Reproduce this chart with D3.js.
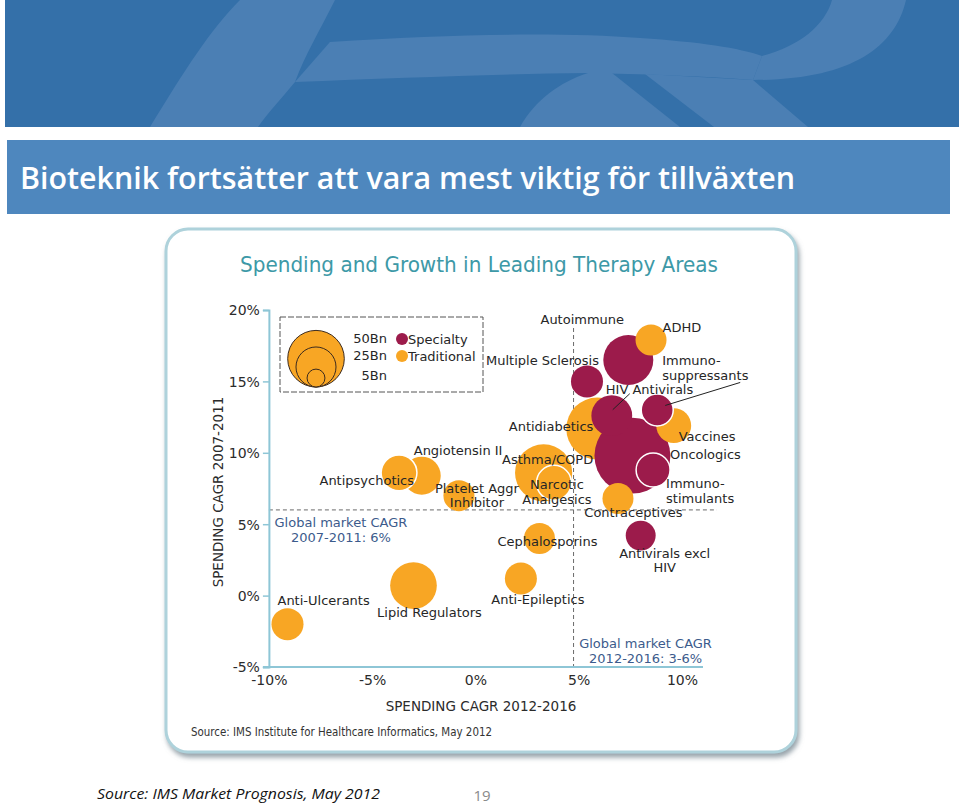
<!DOCTYPE html>
<html><head><meta charset="utf-8">
<script src="https://cdn.jsdelivr.net/npm/d3@7/dist/d3.min.js"></script>
<style>body{margin:0;background:#fff}svg{display:block}</style>
</head><body><svg id="c" width="960" height="807"></svg>
<script>
// ---------------- DATA ----------------
const names = ["Anti-Ulcerants","Lipid Regulators","Anti-Epileptics","Cephalosporins","Angiotensin II","Antipsychotics","Platelet Aggr Inhibitor","Asthma/COPD","Narcotic Analgesics","Antidiabetics","Multiple Sclerosis","Autoimmune","ADHD","Oncologics","HIV Antivirals","Vaccines","Immunosuppressants","Immunostimulants","Contraceptives","Antivirals excl HIV"];
const groups = ["Traditional","Traditional","Traditional","Traditional","Traditional","Traditional","Traditional","Traditional","Traditional","Traditional","Specialty","Specialty","Traditional","Specialty","Specialty","Traditional","Specialty","Specialty","Traditional","Specialty"];
const cagr2012_2016 = [-9.1,-3.0,2.2,3.1,-2.6,-3.7,-0.8,3.3,3.8,5.9,5.4,7.4,8.5,7.6,6.6,9.6,8.8,8.6,6.9,8.0];
const cagr2007_2011 = [-2.0,0.7,1.2,4.0,8.4,8.6,7.0,8.6,7.9,11.7,15.0,16.5,17.9,9.8,12.6,11.9,13.0,8.8,6.8,4.2];
const spendingBn = [16,34,16,15,22.5,20,15,51,19,60,16,39,15,90,26,19,16,18,15,14];
const xTicks = [-10,-5,0,5,10];
const yTicks = [-5,0,5,10,15,20];
const legendSizes = [50,25,5];
const legendGroups = ["Specialty","Traditional"];
const globalCagr2007 = 6;      // horizontal reference
const globalCagr2012 = 4.75;   // vertical reference (3-6%)

// ---------------- LAYOUT / STYLE ----------------
const colors = {Specialty:"#9c1b4b", Traditional:"#f8a624"};
const outlined = ["Antipsychotics","Narcotic Analgesics","Immunosuppressants","Immunostimulants"];
const labelLayout = {
 "Anti-Ulcerants":{l:["Anti-Ulcerants"],a:"start",dx:-10,dy:-19},
 "Lipid Regulators":{l:["Lipid Regulators"],a:"middle",dx:16,dy:31},
 "Anti-Epileptics":{l:["Anti-Epileptics"],a:"middle",dx:17,dy:26},
 "Cephalosporins":{l:["Cephalosporins"],a:"middle",dx:8,dy:8},
 "Angiotensin II":{l:["Angiotensin II"],a:"start",dx:-8,dy:-21},
 "Antipsychotics":{l:["Antipsychotics"],a:"end",dx:15,dy:12},
 "Platelet Aggr Inhibitor":{l:["Platelet Aggr","Inhibitor"],a:"middle",dx:18,dy:-3},
 "Asthma/COPD":{l:["Asthma/COPD"],a:"middle",dx:4,dy:-9},
 "Narcotic Analgesics":{l:["Narcotic","Analgesics"],a:"middle",dx:3,dy:6.5},
 "Antidiabetics":{l:["Antidiabetics"],a:"end",dx:-4,dy:2},
 "Multiple Sclerosis":{l:["Multiple Sclerosis"],a:"end",dx:12,dy:-16},
 "Autoimmune":{l:["Autoimmune"],a:"middle",dx:-46,dy:-36},
 "ADHD":{l:["ADHD"],a:"start",dx:11.5,dy:-8},
 "Oncologics":{l:["Oncologics"],a:"start",dx:37.5,dy:3},
 "HIV Antivirals":{l:["HIV Antivirals"],a:"start",dx:-6,dy:-22,lead:[[18,-22],[1,-6]]},
 "Vaccines":{l:["Vaccines"],a:"start",dx:5,dy:15},
 "Immunosuppressants":{l:["Immuno-","suppressants"],a:"start",dx:5,dy:-44.5,lead:[[83,-27.5],[8,-4.5]]},
 "Immunostimulants":{l:["Immuno-","stimulants"],a:"start",dx:13,dy:18.5},
 "Contraceptives":{l:["Contraceptives"],a:"middle",dx:15.5,dy:19},
 "Antivirals excl HIV":{l:["Antivirals excl","HIV"],a:"middle",dx:24,dy:22}
};

const svg = d3.select("#c");
const FONT = "'DejaVu Sans', Verdana, sans-serif";

// ---------------- HEADER ----------------
svg.append("rect").attr("x",5).attr("y",0).attr("width",954).attr("height",127).attr("fill","#3470a9");
const light = "#4b7fb4";
const clipH = svg.append("clipPath").attr("id","hc");
clipH.append("rect").attr("x",5).attr("y",0).attr("width",954).attr("height",127);
const hg = svg.append("g").attr("clip-path","url(#hc)").attr("fill",light);
[
 "M150,127 C185,70 210,30 240,0 L335,0 C320,30 305,55 295,82 C280,100 268,113 258,127 Z",
 "M330,42 C450,34 560,32 640,38 C700,42 740,48 762,56 L753,80 C700,76 640,74 588,73 C500,74 400,78 295,82 Z",
 "M760,0 L906,0 C895,48 850,80 753,80 L762,56 C800,46 825,25 832,0 Z",
 "M520,127 C535,100 560,82 588,73 L612,73 L680,127 Z",
 "M645,74 L753,80 L808,127 L714,127 Z"
].forEach(d=>hg.append("path").attr("d",d));

svg.append("rect").attr("x",7).attr("y",140).attr("width",943).attr("height",74).attr("fill","#4e87be");
svg.append("text").attr("x",20).attr("y",189).attr("fill","#fff")
  .attr("font-family","'Open Sans','Noto Sans',sans-serif").attr("font-weight",600).attr("font-size",31)
  .attr("textLength",775).attr("lengthAdjust","spacingAndGlyphs")
  .text("Bioteknik fortsätter att vara mest viktig för tillväxten");

// ---------------- PANEL ----------------
const defs = svg.append("defs");
const f = defs.append("filter").attr("id","sh").attr("x","-5%").attr("y","-5%").attr("width","110%").attr("height","115%");
f.append("feDropShadow").attr("dx",2).attr("dy",4).attr("stdDeviation",2.5).attr("flood-color","#7d8c96").attr("flood-opacity",0.8);
svg.append("rect").attr("x",166).attr("y",229).attr("width",630).attr("height",523).attr("rx",22)
  .attr("fill","#fff").attr("stroke","#aed2db").attr("stroke-width",3).attr("filter","url(#sh)");

svg.append("text").attr("x",479).attr("y",272).attr("text-anchor","middle").attr("fill","#3d99a7")
  .attr("font-family","'DejaVu Sans Condensed','Liberation Sans Narrow',sans-serif").attr("font-size",22)
  .attr("textLength",478).attr("lengthAdjust","spacingAndGlyphs")
  .text("Spending and Growth in Leading Therapy Areas");

// ---------------- SCALES ----------------
const x = d3.scaleLinear().domain([-10,10]).range([268.9,682]);
const y = d3.scaleLinear().domain([-5,20]).range([667,310]);
const r = d3.scaleSqrt().domain([0,50]).range([0,28.3]);
const axisCol = "#8ec6d6";

svg.append("line").attr("x1",x(-10)).attr("x2",717).attr("y1",y(globalCagr2007)).attr("y2",y(globalCagr2007))
  .attr("stroke","#6a6a6a").attr("stroke-dasharray","4,3").attr("stroke-width",1);
svg.append("line").attr("x1",x(globalCagr2012)).attr("x2",x(globalCagr2012)).attr("y1",328).attr("y2",y(-5))
  .attr("stroke","#6a6a6a").attr("stroke-dasharray","4,3").attr("stroke-width",1);

const yAxis = svg.append("g").attr("transform",`translate(${x(-10)},0)`)
  .call(d3.axisLeft(y).tickValues(yTicks).tickFormat(d=>d+"%").tickSize(6).tickPadding(3));
const xAxis = svg.append("g").attr("transform",`translate(0,${y(-5)})`)
  .call(d3.axisBottom(x).tickValues(xTicks).tickFormat(d=>d+"%").tickSize(0).tickPadding(8));
xAxis.select(".domain").remove();
xAxis.append("line").attr("x1",x(-10)-6).attr("x2",703).attr("stroke",axisCol).attr("stroke-width",2);
[yAxis,xAxis].forEach(g=>{
  g.selectAll(".domain").attr("stroke",axisCol).attr("stroke-width",2);
  g.selectAll(".tick line").attr("stroke",axisCol).attr("stroke-width",1.5);
  g.selectAll("text").attr("font-family",FONT).attr("font-size",14).attr("fill","#2b2b2b");
});
yAxis.selectAll(".tick text").attr("dy","0.35em");

svg.append("text").attr("x",481).attr("y",711).attr("text-anchor","middle").attr("font-family",FONT)
  .attr("font-size",13.5).attr("fill","#2b2b2b").text("SPENDING CAGR 2012-2016");
svg.append("text").attr("transform","translate(223,492) rotate(-90)").attr("text-anchor","middle").attr("font-family",FONT)
  .attr("font-size",13.5).attr("fill","#2b2b2b").text("SPENDING CAGR 2007-2011");

const annCol = "#3c5b8c";
const a1 = svg.append("text").attr("text-anchor","middle").attr("font-family",FONT).attr("font-size",13).attr("fill",annCol);
a1.append("tspan").attr("x",x(-10)+72).attr("y",y(globalCagr2007)+17).text("Global market CAGR");
a1.append("tspan").attr("x",x(-10)+72).attr("y",y(globalCagr2007)+32).text("2007-2011: 6%");
const a2 = svg.append("text").attr("text-anchor","middle").attr("font-family",FONT).attr("font-size",13).attr("fill",annCol);
a2.append("tspan").attr("x",x(globalCagr2012)+72).attr("y",y(-5)-19).text("Global market CAGR");
a2.append("tspan").attr("x",x(globalCagr2012)+72).attr("y",y(-5)-4).text("2012-2016: 3-6%");

// ---------------- BUBBLES ----------------
const data = names.map((n,i)=>({name:n,group:groups[i],x:cagr2012_2016[i],y:cagr2007_2011[i],v:spendingBn[i]}));
svg.append("g").selectAll("circle").data(data).join("circle")
  .attr("cx",d=>x(d.x)).attr("cy",d=>y(d.y)).attr("r",d=>r(d.v))
  .attr("fill",d=>colors[d.group])
  .attr("stroke",d=>outlined.includes(d.name)?"#fff":"none").attr("stroke-width",1.5);

const lg = svg.append("g").attr("font-family",FONT).attr("font-size",13).attr("fill","#262626");
data.forEach(d=>{
  const L = labelLayout[d.name]; const cx = x(d.x), cy = y(d.y);
  if (L.lead) lg.append("line").attr("x1",cx+L.lead[0][0]).attr("y1",cy+L.lead[0][1])
      .attr("x2",cx+L.lead[1][0]).attr("y2",cy+L.lead[1][1]).attr("stroke","#222").attr("stroke-width",1);
  const t = lg.append("text").attr("text-anchor",L.a);
  L.l.forEach((s,k)=>t.append("tspan").attr("x",cx+L.dx).attr("y",cy+L.dy+k*14.5).text(s));
});

// ---------------- LEGEND ----------------
svg.append("rect").attr("x",280).attr("y",317).attr("width",203).attr("height",75)
  .attr("fill","none").attr("stroke","#555").attr("stroke-width",1).attr("stroke-dasharray","6,2");
const lb = 387, lcx = 316;
svg.append("g").selectAll("circle").data(legendSizes).join("circle")
  .attr("cx",lcx).attr("cy",d=>lb-r(d)).attr("r",d=>r(d))
  .attr("fill",colors.Traditional).attr("stroke","#3b2a1e").attr("stroke-width",1);
const sizeLabelY = [343,360,380];
svg.append("g").selectAll("text").data(legendSizes).join("text")
  .attr("x",387).attr("y",(d,i)=>sizeLabelY[i]).attr("text-anchor","end")
  .attr("font-family",FONT).attr("font-size",13).attr("fill","#262626").text(d=>d+"Bn");
legendGroups.forEach((g,i)=>{
  svg.append("circle").attr("cx",402).attr("cy",339+i*17).attr("r",6).attr("fill",colors[g]);
  svg.append("text").attr("x",408).attr("y",344+i*17).attr("font-family",FONT).attr("font-size",13)
    .attr("fill","#262626").text(g);
});

// ---------------- SOURCES ----------------
svg.append("text").attr("x",191).attr("y",736).attr("font-family","'DejaVu Sans Condensed','Liberation Sans Narrow',sans-serif")
  .attr("font-size",12).attr("fill","#333").attr("textLength",301).attr("lengthAdjust","spacingAndGlyphs")
  .text("Source: IMS Institute for Healthcare Informatics, May 2012");
svg.append("text").attr("x",97).attr("y",799).attr("font-family","'Open Sans','Noto Sans',sans-serif").attr("font-style","italic")
  .attr("font-size",15).attr("fill","#111").attr("textLength",283).attr("lengthAdjust","spacingAndGlyphs")
  .text("Source: IMS Market Prognosis, May 2012");
svg.append("text").attr("x",482).attr("y",801).attr("text-anchor","middle").attr("font-family","'Open Sans','Noto Sans',sans-serif")
  .attr("font-size",15).attr("fill","#8a8a8a").text("19");
</script></body></html>
